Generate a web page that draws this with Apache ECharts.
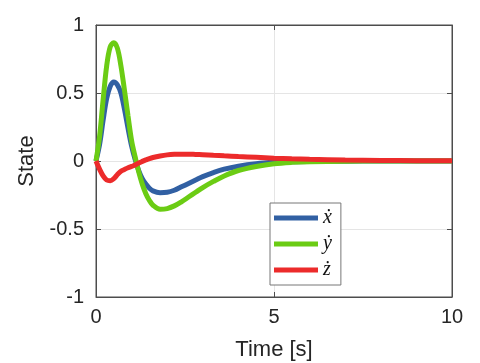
<!DOCTYPE html>
<html><head><meta charset="utf-8">
<script src="https://cdn.jsdelivr.net/npm/echarts@6/dist/echarts.min.js"></script>
<style>html,body{margin:0;padding:0;background:#fff}#c{width:480px;height:363px}</style>
</head><body><div id="c"></div>
<script>
const time = [0,0.1,0.2,0.3,0.4,0.5,0.6,0.7,0.8,0.9,1.0,1.1,1.2,1.3,1.4,1.5,1.6,1.8,2.0,2.2,2.4,2.6,2.8,3.0,3.3,3.6,4.0,4.5,5.0,5.5,6,7,8,9,10];
const xdot = [0,0.12,0.3,0.46,0.55,0.58,0.56,0.5,0.38,0.24,0.11,0.01,-0.07,-0.13,-0.17,-0.2,-0.22,-0.233,-0.23,-0.215,-0.19,-0.165,-0.14,-0.115,-0.085,-0.06,-0.038,-0.02,-0.01,-0.005,-0.003,-0.001,0,0,0];
const ydot = [0,0.18,0.45,0.7,0.84,0.87,0.83,0.7,0.52,0.33,0.15,0.03,-0.08,-0.17,-0.24,-0.29,-0.325,-0.355,-0.35,-0.33,-0.3,-0.265,-0.23,-0.195,-0.15,-0.11,-0.07,-0.04,-0.02,-0.01,-0.005,-0.002,0,0,0];
const zdot = [0,-0.06,-0.11,-0.14,-0.145,-0.13,-0.1,-0.075,-0.062,-0.05,-0.04,-0.03,-0.015,-0.003,0.008,0.018,0.026,0.037,0.045,0.049,0.05,0.05,0.048,0.046,0.042,0.038,0.033,0.027,0.021,0.016,0.012,0.007,0.004,0.002,0.001];
const names = ['\u1E8B','\u1E8F','\u017C'];
const colors = ['#3160A3','#6BCC14','#EC2B2B'];
const xTicks = [0,5,10];
const yTicks = [-1,-0.5,0,0.5,1];

const chart = echarts.init(document.getElementById('c'));
const pairs = arr => time.map((t,i)=>[t,arr[i]]);
const axisCol = '#4d4d4d';
const txtCol = '#262626';
chart.setOption({
  animation:false,
  grid:{left:96,right:28,top:25,bottom:66,containLabel:false,outerBoundsMode:'none',show:true,borderColor:axisCol,borderWidth:1},
  legend:{
    data:names, orient:'vertical', left:270, top:203,
    itemWidth:44, itemHeight:5, itemGap:6,
    padding:[5,9,5,4],
    borderColor:'#777', borderWidth:1, backgroundColor:'#fff',
    icon:'rect',
    textStyle:{fontFamily:'Liberation Serif',fontStyle:'italic',fontSize:20,color:'#111'}
  },
  xAxis:[{
    type:'value',min:xTicks[0],max:xTicks[xTicks.length-1],interval:5,
    name:'Time [s]',nameLocation:'middle',nameGap:42,
    nameTextStyle:{fontFamily:'Liberation Sans',fontSize:22,color:txtCol},
    axisLine:{onZero:false,lineStyle:{color:axisCol}},
    axisTick:{inside:true,length:5,lineStyle:{color:axisCol}},
    axisLabel:{fontFamily:'Liberation Sans',fontSize:20,color:txtCol,margin:10},
    splitLine:{show:true,lineStyle:{color:'#e5e5e5'}}
  },{
    type:'value',position:'top',min:0,max:10,interval:5,
    axisLine:{show:true,onZero:false,lineStyle:{color:axisCol}},
    axisTick:{inside:true,length:5,lineStyle:{color:axisCol}},
    axisLabel:{show:false},splitLine:{show:false}
  }],
  yAxis:[{
    type:'value',min:yTicks[0],max:yTicks[yTicks.length-1],interval:0.5,
    name:'State',nameLocation:'middle',nameGap:58,
    nameTextStyle:{fontFamily:'Liberation Sans',fontSize:22,color:txtCol},
    axisLine:{show:true,onZero:false,lineStyle:{color:axisCol}},
    axisTick:{show:true,inside:true,length:5,lineStyle:{color:axisCol}},
    axisLabel:{fontFamily:'Liberation Sans',fontSize:20,color:txtCol,margin:12},
    splitLine:{show:true,lineStyle:{color:'#e5e5e5'}}
  },{
    type:'value',position:'right',min:-1,max:1,interval:0.5,
    axisLine:{show:true,onZero:false,lineStyle:{color:axisCol}},
    axisTick:{show:true,inside:true,length:5,lineStyle:{color:axisCol}},
    axisLabel:{show:false},splitLine:{show:false}
  }],
  series:[xdot,ydot,zdot].map((arr,i)=>({
    name:names[i],type:'line',data:pairs(arr),showSymbol:false,smooth:0.35,
    lineStyle:{width:5,color:colors[i]},itemStyle:{color:colors[i]}
  }))
});
</script></body></html>
